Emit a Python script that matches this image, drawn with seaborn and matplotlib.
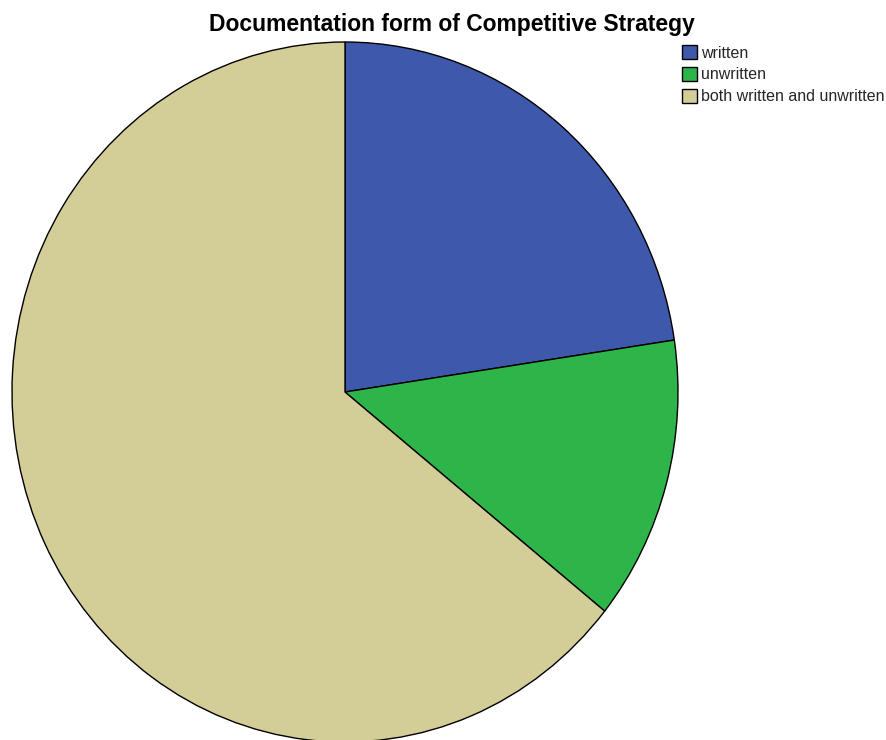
import matplotlib
matplotlib.use("Agg")
import matplotlib.pyplot as plt
import seaborn as sns

# Documentation form counts
categories = ["written", "unwritten", "both written and unwritten"]
counts = [31, 18, 88]
colors = ["#3E58AC", "#2DB54A", "#D3CE97"]

sns.set_theme(style="white")
plt.rcParams["font.family"] = ["Liberation Sans", "DejaVu Sans"]

W, H = 887, 740
fig = plt.figure(figsize=(W / 100, H / 100), dpi=100)
fig.patch.set_facecolor("white")

# pie box in pixels: left 12, right 678, top 42, bottom 742
ax = fig.add_axes([12 / W, (H - 742) / H, 666 / W, 700 / H])
wedges, _ = ax.pie(
    counts,
    colors=colors,
    startangle=90,
    counterclock=False,
    radius=1.0,
    wedgeprops=dict(edgecolor="black", linewidth=1.0),
)
for w in wedges:
    w.set_clip_on(False)
ax.set_aspect("auto")
ax.set_xlim(-1, 1)
ax.set_ylim(-1, 1)
ax.axis("off")

fig.text(452 / W, 1 - 31 / H, "Documentation form of Competitive Strategy",
         ha="center", va="baseline", fontsize=16.5, fontweight="bold", color="black")

leg = fig.legend(
    wedges, categories,
    loc="upper left", bbox_to_anchor=(679 / W, 1 - 42 / H),
    frameon=False, fontsize=11.5, handlelength=0.95, handleheight=0.95,
    handletextpad=0.25, labelspacing=0.4, borderpad=0.2, borderaxespad=0,
)

fig.savefig("out.png", dpi=100, facecolor="white")
